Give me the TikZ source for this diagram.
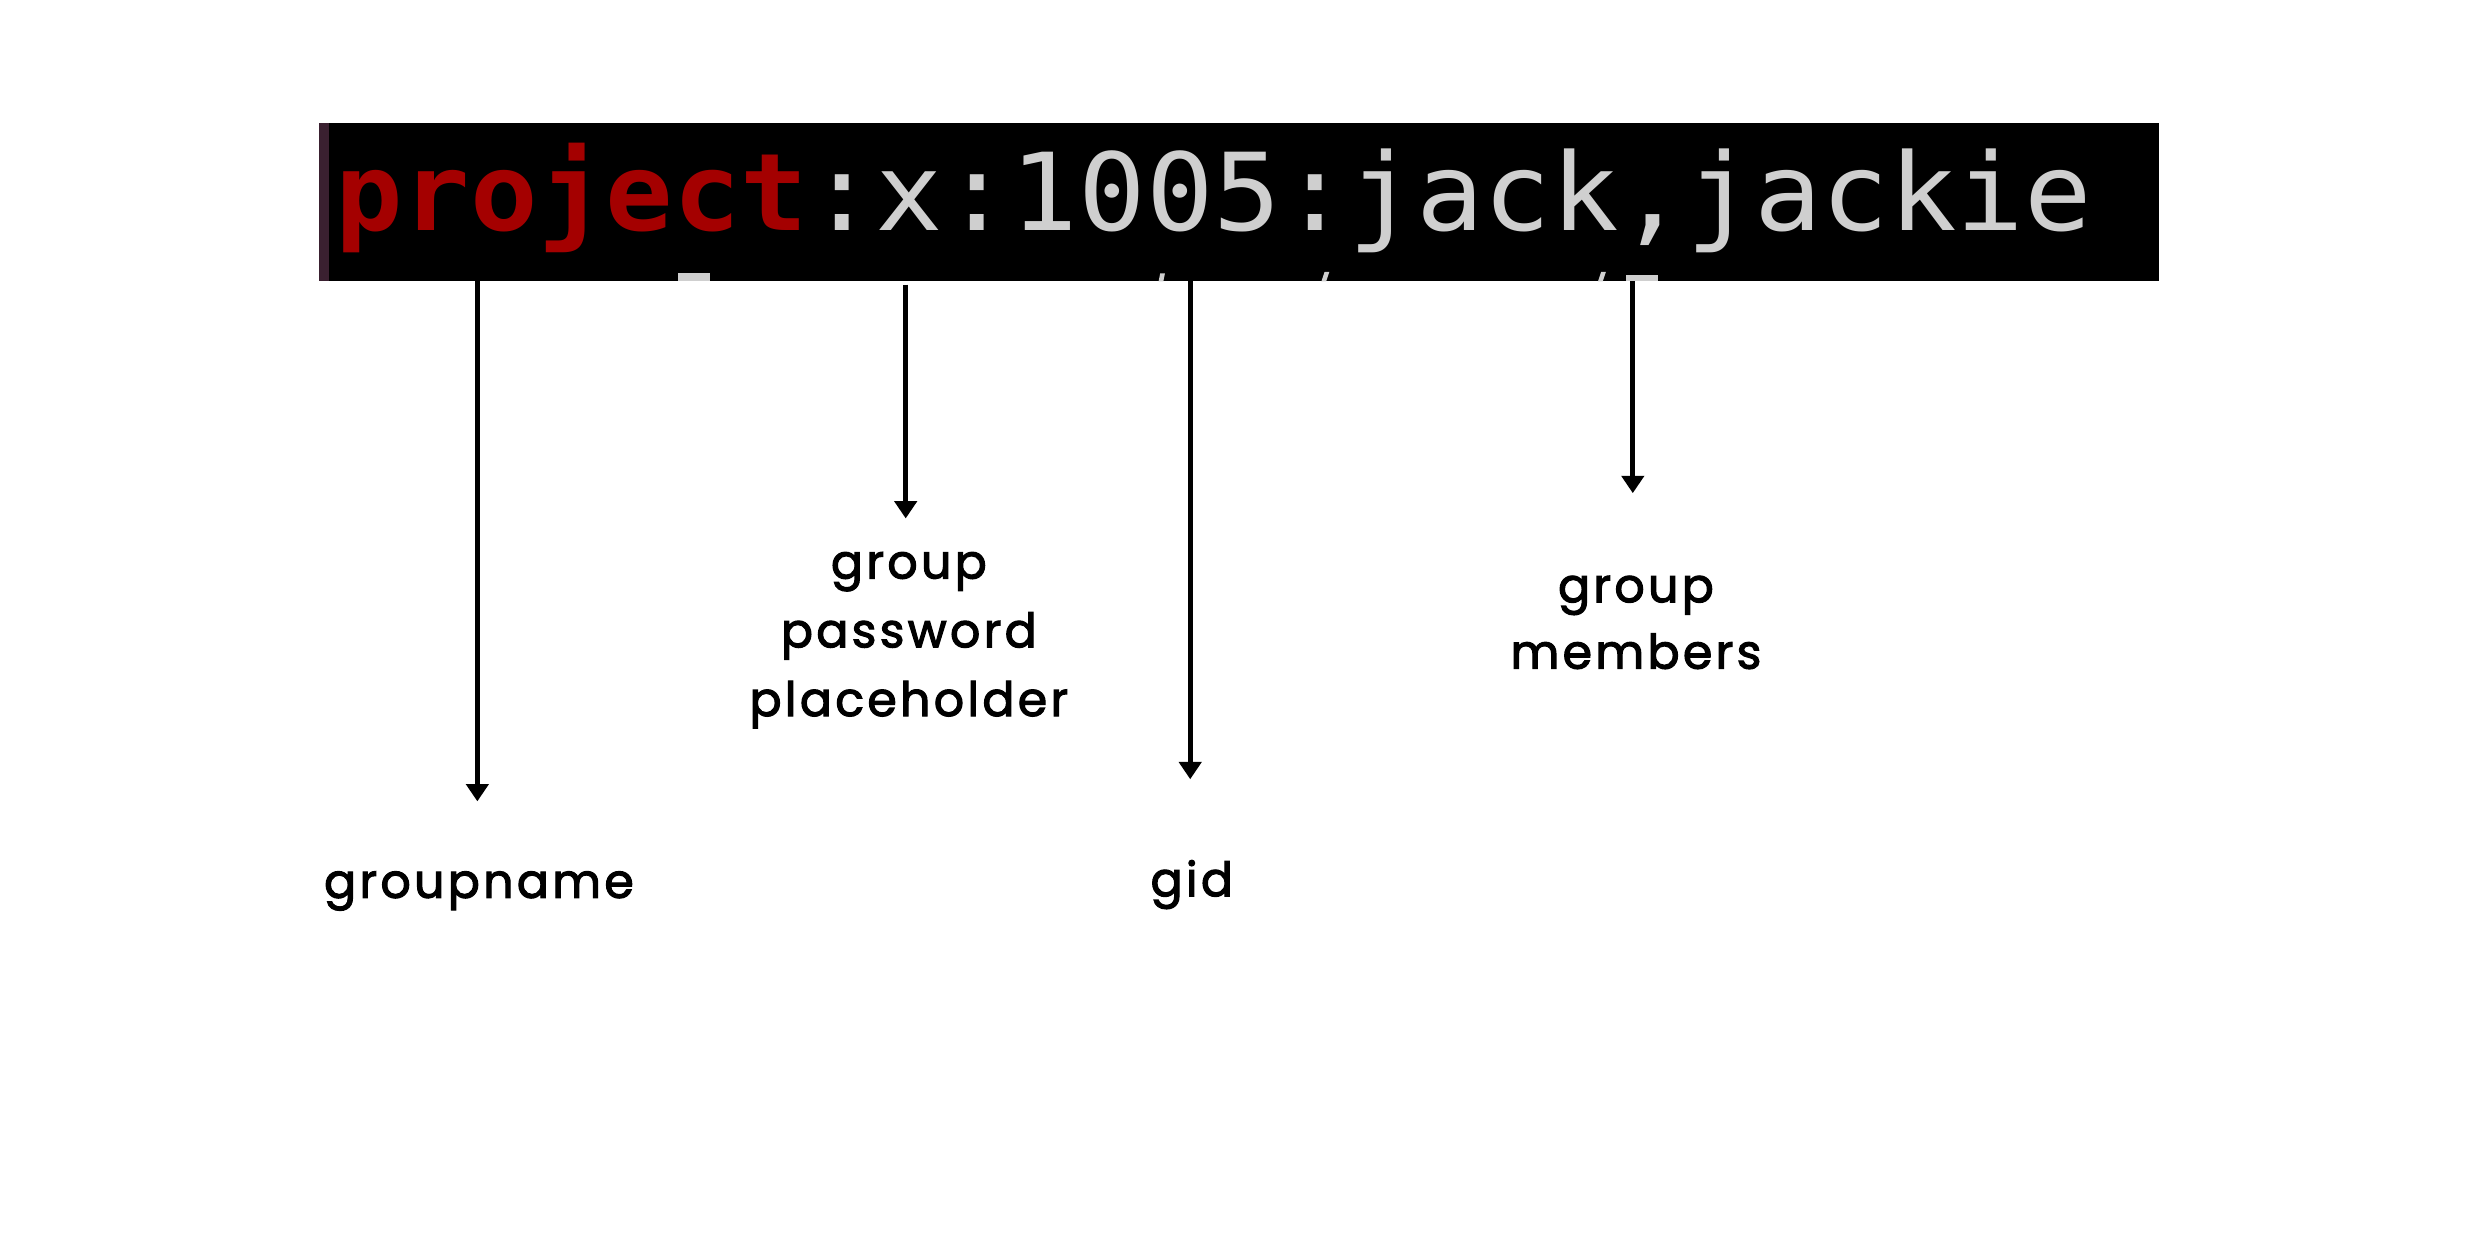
\documentclass[tikz,border=0pt]{standalone}
\usepackage{fontspec}
\usetikzlibrary{arrows.meta}
\newfontfamily\termfont{DejaVu Sans Mono}
\newfontfamily\handfont[LetterSpace=7,FakeBold=2.4]{Poppins}
\definecolor{termred}{HTML}{A40000}
\definecolor{termgrey}{HTML}{CFCFCF}
\definecolor{termedge}{HTML}{3A2030}
\tikzset{
  pointer/.style={line width=3pt,-{Triangle[length=11pt,width=14pt]}},
  handlabel/.style={font=\handfont\fontsize{30}{43.5}\selectfont,align=center,inner sep=0pt,anchor=base},
}
\begin{document}
\begin{tikzpicture}[x=1pt,y=-1pt]
\useasboundingbox (0,0) rectangle (1569,784.5);
\fill[white] (0,0) rectangle (1569,784.5);
% terminal strip
\fill[black] (202,78) rectangle (1366,178);
\fill[termedge] (202,78) rectangle (208,178);
\fill[termgrey] (429,173) rectangle (449,178);
\fill[termgrey] (733,178) -- (734,173) -- (737,173) -- (736,178) -- cycle;
\fill[termgrey] (836,178) -- (838,172) -- (841,172) -- (839,178) -- cycle;
\fill[termgrey] (1011,178) -- (1013,172) -- (1016,172) -- (1014,178) -- cycle;
\fill[termgrey] (1029,174) rectangle (1049,178);
\node[anchor=base west,inner sep=0pt,xscale=1.044,font=\termfont\fontsize{68}{80}\selectfont] (line) at (212,146)
  {\textcolor{termred}{\bfseries project}\textcolor{termgrey}{:x:1005:jack,jackie}};
% anchors on strip
\coordinate (s1) at (302,178);
\coordinate (s2) at (573,180);
\coordinate (s3) at (753,178);
\coordinate (s4) at (1033,178);
\coordinate (e1) at (302,507);
\coordinate (e2) at (573,328);
\coordinate (e3) at (753,493);
\coordinate (e4) at (1033,312);
% labels
\node[handlabel] (l1) at (303,568) {groupname};
\node[handlabel] (l2) at (575,453) {group\\password\\placeholder};
\node[handlabel] (l3) at (754,567) {gid};
\node[handlabel,font=\handfont\fontsize{30}{42}\selectfont] (l4) at (1035,423) {group\\members};
% connectors
\draw[pointer] (s1) -- (e1);
\draw[pointer] (s2) -- (e2);
\draw[pointer] (s3) -- (e3);
\draw[pointer] (s4) -- (e4);
\end{tikzpicture}
\end{document}
